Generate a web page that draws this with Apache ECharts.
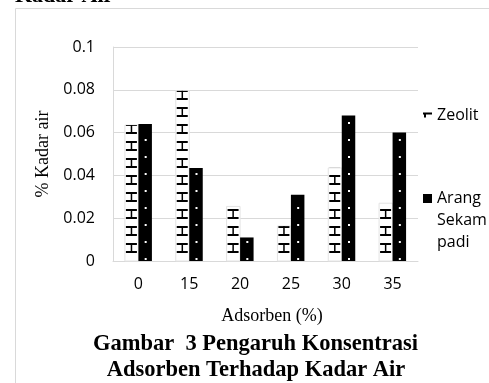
<!DOCTYPE html>
<html>
<head>
<meta charset="utf-8">
<script src="https://cdn.jsdelivr.net/npm/echarts@6/dist/echarts.min.js"></script>
<style>html,body{margin:0;padding:0;background:#fff}#c{width:489px;height:383px}</style>
</head>
<body>
<div id="c"></div>
<script>
const categories = ['0', '15', '20', '25', '30', '35'];
const zeolit = [0.0635, 0.0795, 0.0255, 0.0163, 0.0435, 0.027];
const arangSekamPadi = [0.064, 0.0435, 0.011, 0.031, 0.068, 0.060];
const yTicks = { min: 0, max: 0.1, interval: 0.02 };

const BW = 13.5, PERIOD = 17;
function clipRect(x, y, w, h, top, base) {
  const y0 = Math.max(y, top), y1 = Math.min(y + h, base);
  if (y1 <= y0) return null;
  return { type: 'rect', shape: { x: x, y: y0, width: w, height: y1 - y0 }, style: { fill: '#000' } };
}
function renderZeolit(params, api) {
  const b = api.coord([api.value(0), 0]);
  const t = api.coord([api.value(0), api.value(1)]);
  const x0 = b[0] - BW, base = b[1], top = t[1];
  const children = [{ type: 'rect', shape: { x: x0, y: top, width: BW, height: base - top },
    style: { fill: '#fff', stroke: '#e3e3e3', lineWidth: 1 } }];
  for (let k = 0; ; k++) {
    const by = base - 18 - PERIOD * k;
    if (by + 10 < top) break;
    [clipRect(x0 + 1, by, 11, 2, top, base), clipRect(x0 + 5.8, by, 1.5, 9, top, base),
     clipRect(x0 + 1, by + 8, 11, 2, top, base)].forEach(r => { if (r) children.push(r); });
  }
  return { type: 'group', children };
}
function renderArang(params, api) {
  const b = api.coord([api.value(0), 0]);
  const t = api.coord([api.value(0), api.value(1)]);
  const x0 = b[0], base = b[1], top = t[1];
  const children = [{ type: 'rect', shape: { x: x0, y: top, width: BW, height: base - top }, style: { fill: '#000' } }];
  for (let k = 0; ; k++) {
    const dy = base - 3 - PERIOD * k;
    if (dy < top + 1) break;
    children.push({ type: 'rect', shape: { x: x0 + BW / 2 - 0.5, y: dy, width: 2, height: 2 }, style: { fill: '#fff' } });
  }
  return { type: 'group', children };
}

const chart = echarts.init(document.getElementById('c'));
const sans = 'Open Sans';
const serif = 'Liberation Serif';
chart.setOption({
  animation: false,
  grid: { left: 113, right: 71, top: 47, bottom: 122, containLabel: false },
  xAxis: {
    type: 'category', data: categories,
    axisLine: { lineStyle: { color: '#d9d9d9', width: 1 } },
    axisTick: { show: false },
    axisLabel: { color: '#000', fontFamily: sans, fontSize: 16, margin: 15 }
  },
  yAxis: {
    type: 'value', min: yTicks.min, max: yTicks.max, interval: yTicks.interval,
    name: '% Kadar air', nameLocation: 'middle', nameGap: 60, nameRotate: 90,
    nameTextStyle: { color: '#000', fontFamily: serif, fontSize: 18 },
    axisLine: { show: true, lineStyle: { color: '#d9d9d9', width: 1 } },
    axisTick: { show: false },
    splitLine: { lineStyle: { color: '#d9d9d9', width: 1 } },
    axisLabel: { color: '#000', fontFamily: sans, fontSize: 16, margin: 18 }
  },
  legend: [
    {
      orient: 'vertical', left: 423, top: 104, padding: 0, itemWidth: 9, itemHeight: 9, itemGap: 0,
      data: [{ name: 'Zeolit', icon: 'path://M0,0M9,9M0,2H9V4H3V7H1V4H0Z' }],
      textStyle: { color: '#000', fontFamily: sans, fontSize: 16, lineHeight: 22 }
    },
    {
      orient: 'vertical', left: 423, top: 187.5, padding: 0, itemWidth: 9, itemHeight: 53, itemGap: 0,
      data: [{ name: 'Arang Sekam padi', icon: 'path://M0,0M9,53M0,0H9V9H0Z' }],
      formatter: n => n.replace(/ /g, '\n'),
      textStyle: { color: '#000', fontFamily: sans, fontSize: 16, lineHeight: 22 }
    }
  ],
  series: [
    { name: 'Zeolit', type: 'custom', renderItem: renderZeolit, itemStyle: { color: '#000' },
      encode: { x: 0, y: 1 }, data: zeolit.map((v, i) => [i, v]) },
    { name: 'Arang Sekam padi', type: 'custom', renderItem: renderArang, itemStyle: { color: '#000' },
      encode: { x: 0, y: 1 }, data: arangSekamPadi.map((v, i) => [i, v]) }
  ],
  graphic: [
    { type: 'rect', shape: { x: 15.5, y: 8.5, width: 600, height: 500 }, style: { fill: 'none', stroke: '#d9d9d9', lineWidth: 1 }, silent: true },
    { type: 'text', x: 15, y: 7, style: { text: 'Kadar Air', font: 'bold 22px "Liberation Serif"', fill: '#000', align: 'left', verticalAlign: 'bottom' } },
    { type: 'text', x: 272, y: 316, style: { text: 'Adsorben (%)', font: '18px "Liberation Serif"', fill: '#000', align: 'center', verticalAlign: 'middle' } },
    { type: 'text', x: 255.5, y: 344, style: { text: 'Gambar  3 Pengaruh Konsentrasi', font: 'bold 22.5px "Liberation Serif"', fill: '#000', align: 'center', verticalAlign: 'middle' } },
    { type: 'text', x: 256, y: 370, style: { text: 'Adsorben Terhadap Kadar Air', font: 'bold 22.5px "Liberation Serif"', fill: '#000', align: 'center', verticalAlign: 'middle' } }
  ]
});
</script>
</body>
</html>
